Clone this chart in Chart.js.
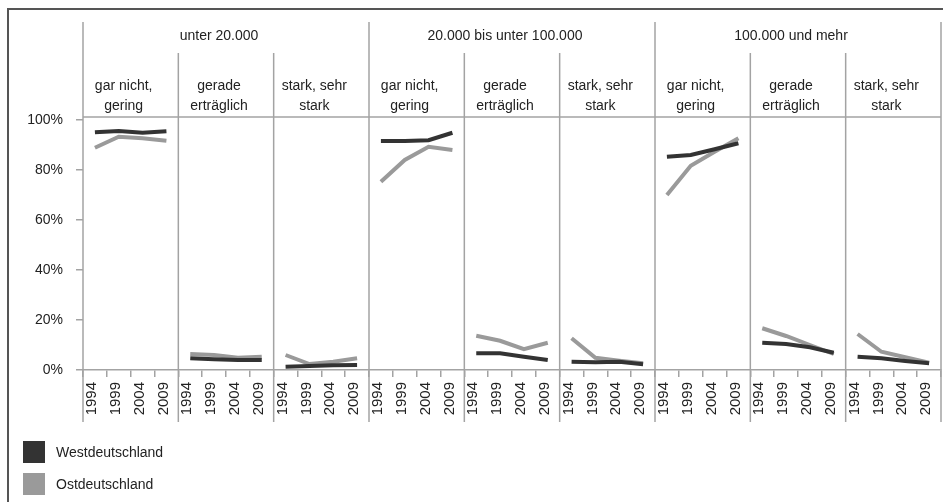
<!doctype html>
<html lang="de">
<head>
<meta charset="utf-8">
<title>Belastung nach Gemeindegröße</title>
<script src="https://cdn.jsdelivr.net/npm/chart.js@4.4.1/dist/chart.umd.min.js"></script>
<style>
  html, body { margin: 0; padding: 0; background: #fff; }
  #wrap { position: relative; width: 943px; height: 502px; overflow: hidden; }
  #frame { position: absolute; left: 7px; top: 8px; right: -4px; bottom: -4px;
           border-top: 2px solid #555; border-left: 2px solid #555; }
  canvas { position: absolute; left: 0; top: 0; }
</style>
</head>
<body>
<div id="wrap">
  <div id="frame"></div>
  <canvas id="myChart" width="943" height="502"></canvas>
</div>
<script>
const years = ['1994', '1999', '2004', '2009'];
const groups = ['unter 20.000', '20.000 bis unter 100.000', '100.000 und mehr'];
const levels = [['gar nicht,', 'gering'], ['gerade', 'erträglich'], ['stark, sehr', 'stark']];
const yTicks = [0, 20, 40, 60, 80, 100];

// per group: gar nicht/gering | gerade erträglich | stark/sehr stark, each 1994..2009
const westUnter20k = [95.1, 95.6, 94.9, 95.5,  4.7, 4.3, 4.0, 4.0,  1.3, 1.6, 1.9, 2.0];
const westBis100k  = [91.6, 91.6, 91.9, 94.9,  6.7, 6.7, 5.3, 4.0,  3.3, 3.1, 3.3, 2.3];
const westAb100k   = [85.3, 86.0, 88.3, 90.7, 10.9, 10.4, 9.1, 6.9, 5.3, 4.7, 3.6, 2.7];
const ostUnter20k  = [88.9, 93.3, 92.7, 91.7,  6.4, 6.0, 4.9, 5.3,  6.0, 2.4, 3.3, 4.7];
const ostBis100k   = [75.3, 84.0, 89.3, 88.0, 13.7, 11.7, 8.3, 10.9, 12.7, 4.9, 3.7, 2.7];
const ostAb100k    = [70.0, 81.7, 87.3, 92.7, 16.7, 13.6, 10.0, 6.4, 14.4, 7.3, 5.1, 2.9];

const FONT = '"Liberation Sans", Arial, sans-serif';
const TEXT = '#222';
const RULE = '#a3a3a3';

// one category per year in each of the 9 panels
const labels = [];
groups.forEach(() => levels.forEach(() => years.forEach(y => labels.push(y))));

const west = [...westUnter20k, ...westBis100k, ...westAb100k];
const ost = [...ostUnter20k, ...ostBis100k, ...ostAb100k];

// no segment between the last year of one panel and the first of the next
const panelBreak = c => (c.p0DataIndex % years.length === years.length - 1) ? 'rgba(0,0,0,0)' : undefined;

// panel frames and header texts
const panelPlugin = {
  id: 'panels',
  beforeDatasetsDraw(chart) {
    const { ctx, chartArea: a, scales: { x } } = chart;
    const band = x.getPixelForValue(1) - x.getPixelForValue(0);
    const nPanels = groups.length * levels.length;
    ctx.save();
    ctx.strokeStyle = RULE;
    ctx.lineWidth = 1.5;
    ctx.beginPath();
    ctx.moveTo(a.left, a.top - 3);
    ctx.lineTo(a.right, a.top - 3);
    ctx.stroke();

    const edges = [];
    for (let p = 0; p <= nPanels; p++) {
      const xp = p < nPanels
        ? x.getPixelForValue(p * years.length) - band / 2
        : x.getPixelForValue(labels.length - 1) + band / 2;
      edges.push(xp);
      const top = p % levels.length === 0 ? a.top - 98 : a.top - 67;
      ctx.beginPath();
      ctx.moveTo(xp, top);
      ctx.lineTo(xp, a.bottom + 52);
      ctx.stroke();
    }

    ctx.fillStyle = TEXT;
    ctx.font = '14px ' + FONT;
    ctx.textAlign = 'center';
    ctx.textBaseline = 'middle';
    groups.forEach((g, gi) => {
      const cx = (edges[gi * levels.length] + edges[(gi + 1) * levels.length]) / 2;
      ctx.fillText(g, cx - 7, a.top - 84);
      levels.forEach((lv, li) => {
        const p = gi * levels.length + li;
        const px = (edges[p] + edges[p + 1]) / 2 - 7;
        ctx.fillText(lv[0], px, a.top - 34);
        ctx.fillText(lv[1], px, a.top - 14);
      });
    });
    ctx.restore();
  },
  afterDraw(chart) {
    const { ctx } = chart;
    ctx.save();
    ctx.font = '14px ' + FONT;
    ctx.textBaseline = 'middle';
    ctx.textAlign = 'left';
    chart.data.datasets.forEach((ds, i) => {
      const y = 441 + i * 32;
      ctx.fillStyle = ds.borderColor;
      ctx.fillRect(23, y, 22, 22);
      ctx.fillStyle = TEXT;
      ctx.fillText(ds.label, 56, y + 12);
    });
    ctx.restore();
  }
};

new Chart(document.getElementById('myChart'), {
  type: 'line',
  data: {
    labels: labels,
    datasets: [
      { label: 'Westdeutschland', data: west, borderColor: '#333333', backgroundColor: '#333333',
        borderWidth: 4, pointRadius: 0, tension: 0, segment: { borderColor: panelBreak } },
      { label: 'Ostdeutschland', data: ost, borderColor: '#9a9a9a', backgroundColor: '#9a9a9a',
        borderWidth: 4, pointRadius: 0, tension: 0, segment: { borderColor: panelBreak } }
    ]
  },
  options: {
    responsive: false,
    animation: false,
    layout: { padding: { top: 120, right: 2, bottom: 0, left: 0 } },
    plugins: { legend: { display: false }, tooltip: { enabled: false } },
    scales: {
      x: {
        offset: true,
        afterFit(scale) {
          scale.height = 132;
          scale.paddingLeft = 0;
          scale.paddingRight = 0;
        },
        border: { display: true, color: RULE, width: 1.5 },
        grid: { offset: true, drawOnChartArea: false, tickLength: 7, color: RULE, lineWidth: 1.5 },
        ticks: { autoSkip: false, maxRotation: 90, minRotation: 90, padding: 5, labelOffset: -3,
                 color: TEXT, font: { family: FONT, size: 15 } }
      },
      y: {
        min: 0,
        max: 100,
        afterFit(scale) { scale.width = 83; },
        afterBuildTicks(scale) { scale.ticks = yTicks.map(v => ({ value: v })); },
        border: { display: false },
        grid: { drawOnChartArea: false, tickLength: 7, color: RULE, lineWidth: 1.5 },
        ticks: { padding: 13, color: TEXT, font: { family: FONT, size: 14 },
                 callback: v => v + '%' }
      }
    }
  },
  plugins: [panelPlugin]
});
</script>
</body>
</html>
